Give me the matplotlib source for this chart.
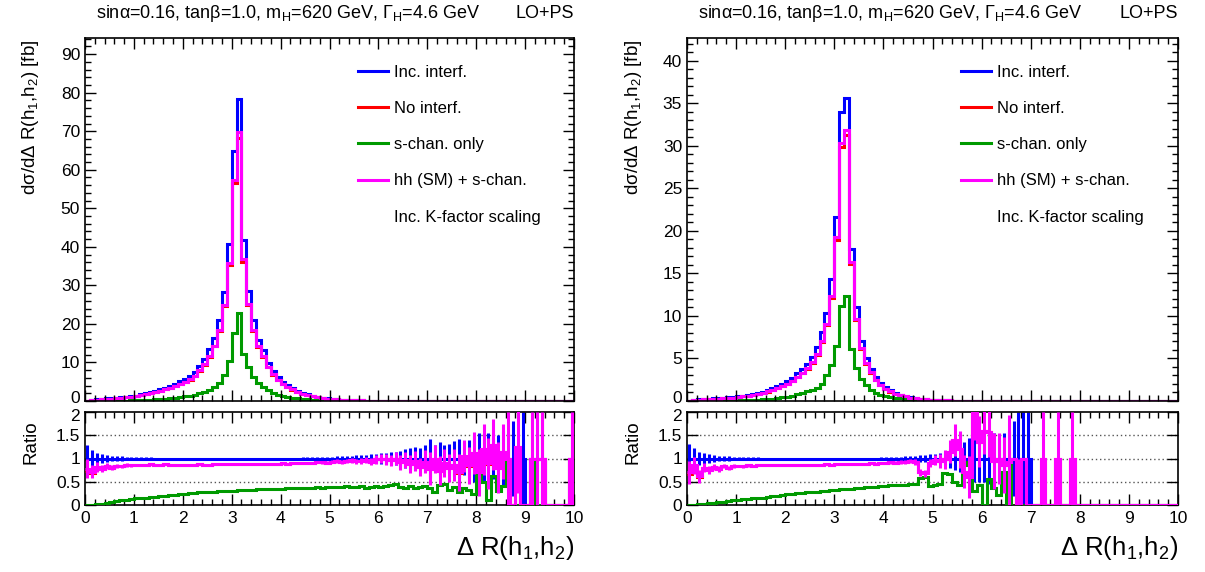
import numpy as np
import matplotlib
matplotlib.use("Agg")
import matplotlib.pyplot as plt
from matplotlib.ticker import MultipleLocator, FixedLocator
from matplotlib.lines import Line2D
from matplotlib.transforms import ScaledTranslation

plt.rcParams['font.family'] = ['Liberation Sans', 'DejaVu Sans']
plt.rcParams['mathtext.fontset'] = 'custom'
plt.rcParams['mathtext.rm'] = 'Liberation Sans'
plt.rcParams['mathtext.it'] = 'Liberation Sans:italic'

# ---------------- data ----------------
edges = np.round(np.arange(0, 101) * 0.1, 2)   # Delta R bin edges, 0..10

labels = ["Inc. interf.", "No interf.", "s-chan. only", "hh (SM) + s-chan.", "Inc. K-factor scaling"]
colors = ["#0000ff", "#ff0000", "#009a00", "#ff00ff"]
title_txt = "sinα=0.16, tanβ=1.0, m$_{\\mathrm{H}}$=620 GeV, Γ$_{\\mathrm{H}}$=4.6 GeV"

# ---- left panel: main distributions [fb] ----
inc_L = [0.10,0.30,0.45,0.55,0.65,0.75,0.85,0.95,1.10,1.25,
         1.40,1.70,2.00,2.30,2.60,3.00,3.50,4.00,4.50,5.10,
         5.80,6.50,7.60,9.00,10.9,13.4,16.4,21.0,28.4,40.7,
         65.0,78.5,41.8,28.6,20.9,15.9,13.2,9.90,7.80,6.30,
         5.00,4.10,3.30,2.60,2.10,1.70,1.40,1.10,0.90,0.70,
         0.55,0.45,0.36,0.29,0.23,0.18,0.14,0.11,0.09,0.07,
         0.055,0.045,0.035,0.028,0.022,0.017,0.013,0.010,0.008,0.006,
         0.005,0.004,0.003,0.0025,0.002,0.0015,0.0012,0.001,0.0008,0.0006,
         0.0005,0.0004,0.0003,0.0003,0.0002,0.0002,0.0001,0.0001,0,0.0001,
         0,0.0001,0.0001,0.0001,0,0,0,0,0,0.0001]
noint_L = [0.08,0.22,0.36,0.42,0.54,0.59,0.70,0.78,0.94,1.04,
           1.18,1.46,1.71,1.99,2.23,2.57,3.03,3.43,3.86,4.37,
           4.97,5.57,6.51,7.80,9.34,11.5,14.2,18.2,24.6,35.2,
           56.6,68.3,36.2,24.8,18.1,14.0,11.4,8.70,6.80,5.40,
           4.40,3.55,2.95,2.27,1.87,1.48,1.28,0.99,0.82,0.63,
           0.50,0.41,0.33,0.28,0.22,0.17,0.13,0.11,0.08,0.07,
           0.054,0.043,0.033,0.027,0.020,0.016,0.011,0.010,0.007,0.006,
           0.004,0.004,0.002,0.002,0.002,0.001,0.001,0.001,0.001,0.001,
           0,0,0,0,0,0,0,0,0,0,
           0,0,0,0,0,0,0,0,0,0]
schan_L = [0.00,0.01,0.01,0.02,0.03,0.04,0.06,0.08,0.10,0.13,
           0.17,0.21,0.27,0.33,0.40,0.48,0.58,0.70,0.84,1.00,
           1.20,1.40,1.65,1.95,2.30,2.80,3.70,4.70,6.70,10.4,
           17.6,22.8,12.1,8.70,6.30,4.70,3.70,2.80,2.10,1.60,
           1.30,1.05,0.85,0.68,0.55,0.45,0.37,0.30,0.25,0.20,
           0.16,0.13,0.11,0.09,0.07,0.06,0.05,0.04,0.03,0.025,
           0.020,0.016,0.013,0.010,0.008,0.006,0.005,0.004,0.003,0.002,
           0,0,0,0,0,0,0,0,0,0,
           0,0,0,0,0,0,0,0,0,0,
           0,0,0,0,0,0,0,0,0,0]
hhs_L = [0.08,0.22,0.37,0.43,0.55,0.60,0.71,0.79,0.95,1.06,
         1.20,1.48,1.74,2.02,2.26,2.61,3.08,3.48,3.92,4.44,
         5.05,5.66,6.61,7.92,9.48,11.7,14.4,18.5,25.0,35.8,
         57.4,69.7,36.8,25.2,18.4,14.2,11.6,8.80,6.90,5.50,
         4.50,3.60,3.00,2.30,1.90,1.50,1.30,1.00,0.83,0.64,
         0.51,0.42,0.33,0.28,0.22,0.17,0.13,0.11,0.08,0.07,
         0.055,0.044,0.034,0.028,0.020,0.016,0.011,0.010,0.007,0.006,
         0.004,0.004,0.002,0.002,0.002,0.001,0.001,0.001,0.001,0.001,
         0,0,0,0,0,0,0,0,0,0,
         0,0,0,0,0,0,0,0,0,0]

# ---- left panel: ratios to "Inc. interf." ----
r_noint_L = [0.74,0.69,0.81,0.77,0.83,0.80,0.84,0.83,0.86,0.85,
             0.86,0.87,0.87,0.88,0.87,0.87,0.88,0.87,0.87,0.87,
             0.87,0.87,0.87,0.88,0.87,0.87,0.88,0.88,0.88,0.88,
             0.88,0.89,0.88,0.88,0.88,0.89,0.88,0.89,0.89,0.88,
             0.90,0.89,0.90,0.90,0.91,0.90,0.91,0.92,0.92,0.91,
             0.93,0.94,0.93,0.95,0.96,0.94,0.95,0.97,0.93,0.98,
             1.00,0.98,0.96,1.00,0.92,0.97,0.88,0.95,0.82,0.93,
             0.77,0.97,0.73,0.89,0.79,0.85,0.69,1.04,0.84,1.11,
             0.69,1.19,0.89,1.29,0.79,1.14,0.99,0.00,1.24,0.00,
             0.00,1.00,1.00,1.00,0.00,0.00,0.00,0.00,0.00,1.00]
r_schan_L = [0.00,0.01,0.02,0.03,0.05,0.06,0.08,0.10,0.11,0.13,
             0.14,0.15,0.16,0.17,0.18,0.19,0.20,0.21,0.22,0.23,
             0.24,0.25,0.26,0.27,0.27,0.28,0.29,0.30,0.30,0.31,
             0.31,0.32,0.32,0.33,0.33,0.34,0.34,0.34,0.35,0.35,
             0.35,0.36,0.36,0.36,0.37,0.37,0.37,0.38,0.37,0.38,
             0.38,0.39,0.38,0.40,0.38,0.39,0.40,0.37,0.39,0.40,
             0.38,0.40,0.42,0.45,0.38,0.37,0.40,0.36,0.38,0.40,
             0.36,0.28,0.42,0.45,0.32,0.38,0.27,0.36,0.33,0.24,
             0.66,0.50,0.10,0.62,0.30,0.40,0.95,0.00,0.00,0.00,
             0.00,0.95,0.00,0.00,0.00,0.00,0.00,0.00,0.00,0.00]
r_hhs_L = [0.78,0.72,0.82,0.78,0.84,0.80,0.84,0.83,0.86,0.85,
           0.86,0.87,0.87,0.88,0.87,0.87,0.88,0.87,0.87,0.87,
           0.87,0.87,0.87,0.88,0.87,0.87,0.88,0.88,0.88,0.88,
           0.88,0.89,0.88,0.88,0.88,0.89,0.88,0.89,0.89,0.88,
           0.90,0.89,0.90,0.90,0.91,0.90,0.91,0.92,0.92,0.91,
           0.93,0.94,0.93,0.95,0.96,0.94,0.95,0.97,0.93,0.98,
           1.00,0.98,0.96,1.00,0.92,0.97,0.88,0.95,0.82,0.93,
           0.78,0.98,0.74,0.90,0.80,0.86,0.70,1.05,0.85,1.12,
           0.70,1.20,0.90,1.30,0.80,1.15,1.00,0.00,1.25,0.00,
           0.00,1.00,1.00,1.00,0.00,0.00,0.00,0.00,0.00,1.00]
e_inc_L = [0.30,0.18,0.12,0.09,0.07,0.06,0.05,0.045,0.04,0.035,
           0.03,0.028,0.025,0.022,0.02,0.02,0.018,0.017,0.016,0.015,
           0.014,0.013,0.012,0.011,0.01,0.01,0.01,0.01,0.01,0.01,
           0.01,0.01,0.01,0.01,0.01,0.01,0.01,0.012,0.013,0.014,
           0.015,0.016,0.018,0.02,0.022,0.025,0.028,0.03,0.033,0.036,
           0.04,0.045,0.05,0.055,0.06,0.065,0.07,0.08,0.09,0.10,
           0.11,0.12,0.13,0.15,0.17,0.20,0.22,0.25,0.22,0.28,
           0.42,0.30,0.35,0.30,0.32,0.38,0.42,0.35,0.40,0.50,
           0.55,0.50,0.55,0.45,0.50,0.60,0.55,0.80,0.00,1.00,
           0.00,1.00,1.00,1.00,0.00,0.00,0.00,0.00,0.00,1.00]
e_hhs_L = [0.20,0.15,0.11,0.08,0.06,0.05,0.04,0.04,0.035,0.03,
           0.025,0.022,0.02,0.018,0.016,0.015,0.014,0.013,0.012,0.012,
           0.011,0.01,0.01,0.01,0.01,0.01,0.01,0.01,0.01,0.01,
           0.01,0.01,0.01,0.01,0.01,0.01,0.01,0.01,0.011,0.012,
           0.012,0.013,0.015,0.017,0.019,0.021,0.024,0.027,0.03,0.033,
           0.036,0.04,0.045,0.05,0.055,0.06,0.065,0.07,0.08,0.09,
           0.10,0.11,0.12,0.14,0.16,0.18,0.20,0.22,0.20,0.25,
           0.35,0.30,0.32,0.30,0.30,0.35,0.40,0.35,0.40,0.45,
           0.50,0.55,0.55,0.55,0.55,0.60,1.00,0.00,1.00,0.00,
           0.00,1.00,1.00,1.00,0.00,0.00,0.00,0.00,0.00,1.00]

# ---- right panel: main distributions [fb] ----
inc_R = [0.05,0.12,0.18,0.22,0.26,0.30,0.34,0.38,0.43,0.48,
         0.55,0.62,0.72,0.82,0.95,1.10,1.30,1.50,1.75,2.00,
         2.35,2.75,3.25,3.80,4.40,5.20,6.30,8.10,10.4,14.3,
         21.6,34.0,35.6,17.9,11.0,7.00,5.00,3.80,2.80,2.10,
         1.60,1.25,0.95,0.75,0.58,0.45,0.36,0.28,0.22,0.17,
         0.13,0.10,0.08,0.065,0.05,0.04,0.03,0.025,0.02,0.015,
         0.012,0.009,0.007,0.005,0.004,0.003,0.002,0.0015,0.001,0.001,
         0,0,0,0,0,0,0,0,0,0,
         0,0,0,0,0,0,0,0,0,0,
         0,0,0,0,0,0,0,0,0,0]
noint_R = [0.04,0.10,0.15,0.18,0.21,0.25,0.28,0.32,0.36,0.40,
           0.46,0.53,0.61,0.70,0.81,0.94,1.11,1.29,1.50,1.72,
           2.02,2.36,2.80,3.27,3.79,4.48,5.44,6.99,8.96,12.1,
           18.9,29.9,31.3,16.1,9.55,6.10,4.38,3.33,2.46,1.85,
           1.43,1.11,0.85,0.67,0.52,0.40,0.33,0.26,0.20,0.16,
           0.12,0.094,0.074,0.06,0.046,0.037,0.028,0.024,0.019,0.014,
           0.011,0.008,0.006,0.005,0.004,0.003,0.002,0.0015,0.001,0.001,
           0,0,0,0,0,0,0,0,0,0,
           0,0,0,0,0,0,0,0,0,0,
           0,0,0,0,0,0,0,0,0,0]
schan_R = [0.00,0.002,0.005,0.01,0.015,0.02,0.03,0.035,0.045,0.055,
           0.065,0.08,0.10,0.12,0.15,0.18,0.23,0.28,0.35,0.42,
           0.52,0.63,0.78,0.95,1.15,1.30,1.50,2.05,3.00,4.20,
           6.50,11.2,12.3,6.10,3.90,2.60,1.90,1.30,0.98,0.75,
           0.60,0.48,0.38,0.31,0.25,0.20,0.17,0.14,0.11,0.09,
           0.07,0.055,0.045,0.035,0.028,0.022,0.017,0.013,0.010,0.008,
           0.006,0.005,0.004,0.003,0.002,0.001,0.001,0.001,0,0,
           0,0,0,0,0,0,0,0,0,0,
           0,0,0,0,0,0,0,0,0,0,
           0,0,0,0,0,0,0,0,0,0]
hhs_R = [0.04,0.10,0.15,0.18,0.22,0.25,0.29,0.32,0.37,0.41,
         0.47,0.54,0.62,0.71,0.82,0.95,1.13,1.31,1.52,1.74,
         2.05,2.40,2.84,3.32,3.85,4.55,5.52,7.10,9.10,12.3,
         19.3,30.3,31.9,16.4,9.70,6.20,4.45,3.38,2.50,1.88,
         1.45,1.13,0.86,0.68,0.53,0.41,0.33,0.26,0.20,0.16,
         0.12,0.095,0.075,0.06,0.047,0.038,0.028,0.024,0.019,0.014,
         0.011,0.008,0.006,0.005,0.004,0.003,0.002,0.0015,0.001,0.001,
         0,0,0,0,0,0,0,0,0,0,
         0,0,0,0,0,0,0,0,0,0,
         0,0,0,0,0,0,0,0,0,0]

# ---- right panel: ratios to "Inc. interf." ----
r_noint_R = [0.66,0.83,0.61,0.80,0.75,0.82,0.78,0.84,0.80,0.84,
             0.84,0.83,0.85,0.84,0.86,0.85,0.86,0.86,0.85,0.86,
             0.86,0.86,0.87,0.87,0.86,0.87,0.87,0.87,0.88,0.87,
             0.88,0.88,0.89,0.88,0.88,0.89,0.89,0.90,0.89,0.90,
             0.91,0.92,0.91,0.92,0.93,0.95,0.92,0.70,0.68,0.90,
             0.97,0.95,0.98,1.15,1.40,1.20,0.72,0.60,2.00,1.36,
             1.60,1.58,0.94,1.00,0.86,0.93,1.00,0.00,1.00,0.00,
             0.00,0.00,1.00,0.00,0.00,1.00,0.00,0.00,1.00,0.00,
             0,0,0,0,0,0,0,0,0,0,
             0,0,0,0,0,0,0,0,0,0]
r_schan_R = [0.00,0.01,0.02,0.03,0.04,0.05,0.06,0.07,0.09,0.10,
             0.11,0.12,0.13,0.14,0.15,0.16,0.18,0.19,0.20,0.22,
             0.23,0.24,0.25,0.26,0.27,0.28,0.29,0.30,0.31,0.32,
             0.33,0.34,0.35,0.35,0.36,0.37,0.38,0.38,0.39,0.40,
             0.41,0.42,0.43,0.43,0.44,0.46,0.45,0.57,0.60,0.40,
             0.42,0.45,0.68,0.66,0.50,0.43,0.86,0.93,0.30,0.42,
             0.00,0.55,0.36,0.22,0.70,0.05,1.00,0.00,0.00,0.00,
             0,0,0,0,0,0,0,0,0,0,
             0,0,0,0,0,0,0,0,0,0,
             0,0,0,0,0,0,0,0,0,0]
r_hhs_R = [0.70,0.85,0.62,0.80,0.75,0.82,0.78,0.84,0.80,0.84,
           0.84,0.83,0.85,0.84,0.86,0.85,0.86,0.86,0.85,0.86,
           0.86,0.86,0.87,0.87,0.86,0.87,0.87,0.87,0.88,0.87,
           0.88,0.88,0.89,0.88,0.88,0.89,0.89,0.90,0.89,0.90,
           0.91,0.92,0.91,0.92,0.93,0.95,0.92,0.70,0.68,0.90,
           0.97,0.95,0.98,1.15,1.40,1.20,0.72,0.60,2.00,1.36,
           1.60,1.58,0.94,1.00,0.86,0.93,1.00,0.00,1.00,0.00,
           0.00,0.00,1.00,0.00,0.00,1.00,0.00,0.00,1.00,0.00,
           0,0,0,0,0,0,0,0,0,0,
           0,0,0,0,0,0,0,0,0,0]
e_inc_R = [0.32,0.22,0.15,0.11,0.09,0.07,0.06,0.05,0.045,0.04,
           0.035,0.03,0.028,0.025,0.022,0.02,0.018,0.017,0.016,0.015,
           0.014,0.013,0.012,0.011,0.01,0.01,0.01,0.01,0.01,0.01,
           0.01,0.01,0.01,0.01,0.012,0.014,0.016,0.018,0.02,0.022,
           0.025,0.03,0.035,0.04,0.045,0.05,0.06,0.07,0.08,0.09,
           0.10,0.12,0.14,0.20,0.25,0.30,0.35,0.45,0.50,0.50,
           0.50,0.55,0.55,0.45,0.55,0.60,0.80,1.00,1.00,1.00,
           0,0,0,0,0,0,0,0,0,0,
           0,0,0,0,0,0,0,0,0,0,
           0,0,0,0,0,0,0,0,0,0]
e_hhs_R = [0.25,0.18,0.14,0.10,0.08,0.07,0.06,0.05,0.045,0.04,
           0.03,0.028,0.025,0.022,0.02,0.018,0.016,0.015,0.014,0.013,
           0.012,0.011,0.01,0.01,0.01,0.01,0.01,0.01,0.01,0.01,
           0.01,0.01,0.01,0.01,0.012,0.014,0.016,0.018,0.02,0.022,
           0.025,0.03,0.035,0.04,0.045,0.05,0.06,0.07,0.08,0.09,
           0.10,0.15,0.20,0.25,0.35,0.40,0.35,0.45,0.60,0.55,
           0.50,0.55,0.60,0.55,0.60,1.00,0.00,1.00,0.00,0.00,
           0.00,0.00,1.00,0.00,0.00,1.00,0.00,0.00,1.00,0.00,
           0,0,0,0,0,0,0,0,0,0,
           0,0,0,0,0,0,0,0,0,0]

# ---------------- figure ----------------
fig = plt.figure(figsize=(12.05, 5.72), dpi=100)
W, H = 1205.0, 572.0
LW = 2.2
TICK_FS = 12.5


def style_axes(ax, xmaj, xmin, ymaj, ymin):
    ax.xaxis.set_major_locator(MultipleLocator(xmaj))
    ax.xaxis.set_minor_locator(MultipleLocator(xmin))
    if ymaj is not None:
        ax.yaxis.set_major_locator(MultipleLocator(ymaj))
    if ymin is not None:
        ax.yaxis.set_minor_locator(MultipleLocator(ymin))
    ax.tick_params(which='both', direction='in', top=True, right=True,
                   labelsize=TICK_FS, width=1.0)
    ax.tick_params(which='major', length=8)
    ax.tick_params(which='minor', length=4)
    for s in ax.spines.values():
        s.set_linewidth(1.2)


def panel(x_left_px, x_right_px, inc, noint, schan, hhs,
          r_noint, r_schan, r_hhs, e_inc, e_hhs, ymax, ymaj, ymin):
    left = x_left_px / W
    width = (x_right_px - x_left_px) / W
    ax = fig.add_axes([left, 1 - 401 / H, width, (401 - 38) / H])
    axr = fig.add_axes([left, 1 - 505 / H, width, (505 - 412) / H])

    series = [inc, noint, schan, hhs]
    for vals, c in zip(series, colors):
        ax.stairs(vals, edges, color=c, lw=LW, baseline=None)
    ax.set_xlim(0, 10)
    ax.set_ylim(0, ymax)
    style_axes(ax, 1, 0.2, ymaj, ymin)
    ax.tick_params(labelbottom=False)
    fig.canvas.draw()
    # nudge the "0" label of the main frame up a little (as in the reference)
    for lab in ax.get_yticklabels():
        if lab.get_text() in ("0", "−0"):
            lab.set_transform(lab.get_transform() +
                              ScaledTranslation(0, 3 / 72, fig.dpi_scale_trans))

    handles = [Line2D([], [], color=c, lw=LW) for c in colors]
    handles.append(Line2D([], [], color='none', lw=0))
    ax.legend(handles, labels, loc='upper left', bbox_to_anchor=(0.545, 0.944),
              frameon=False, fontsize=12, handlelength=1.8, handletextpad=0.32,
              labelspacing=1.27, borderaxespad=0)

    # ratio panel
    centers = 0.5 * (edges[:-1] + edges[1:])
    inc_a = np.array(inc)
    r_inc = np.where(inc_a > 0, 1.0, 0.0)
    for yv in [0.5, 1.0, 1.5]:
        axr.axhline(yv, color='#555555', lw=1.0, ls=(0, (1, 2)), zorder=0.5)
    axr.stairs(r_inc, edges, color=colors[0], lw=LW, baseline=None, zorder=2)
    axr.vlines(centers, r_inc - np.array(e_inc), r_inc + np.array(e_inc),
               color=colors[0], lw=LW, zorder=2)
    axr.stairs(r_noint, edges, color=colors[1], lw=LW, baseline=None, zorder=3)
    axr.stairs(r_schan, edges, color=colors[2], lw=LW, baseline=None, zorder=4)
    rh = np.array(r_hhs)
    eh = np.array(e_hhs)
    axr.stairs(rh, edges, color=colors[3], lw=LW, baseline=None, zorder=5)
    axr.vlines(centers, rh - eh, rh + eh, color=colors[3], lw=LW, zorder=5)
    axr.set_xlim(0, 10)
    axr.set_ylim(0, 2)
    style_axes(axr, 1, 0.2, None, None)
    axr.yaxis.set_major_locator(FixedLocator([0, 0.5, 1, 1.5, 2]))
    axr.set_yticklabels(["0", "0.5", "1", "1.5", "2"])
    ylabs = axr.get_yticklabels()
    ylabs[-1].set_transform(ylabs[-1].get_transform() +
                            ScaledTranslation(0, -2 / 72, fig.dpi_scale_trans))
    axr.set_xticks(range(0, 11))
    axr.set_xticklabels([str(v) for v in range(0, 11)])
    axr.tick_params(axis='x', pad=4)

    # texts
    fig.text((x_left_px + 11) / W, 1 - 14 / H, title_txt, fontsize=13,
             ha='left', va='center')
    fig.text(x_right_px / W, 1 - 14 / H, "LO+PS", fontsize=13,
             ha='right', va='center')
    fig.text((x_left_px - 54) / W, 1 - 40 / H,
             "dσ/dΔ R(h$_{1}$,h$_{2}$) [fb]", rotation=90, fontsize=13.5,
             ha='center', va='top')
    fig.text((x_left_px - 54) / W, 1 - 442 / H, "Ratio", rotation=90,
             fontsize=13.5, ha='center', va='center')
    fig.text(x_right_px / W, 1 - 548 / H, "Δ R(h$_{1}$,h$_{2}$)",
             fontsize=18.5, ha='right', va='center')


panel(85, 574, inc_L, noint_L, schan_L, hhs_L,
      r_noint_L, r_schan_L, r_hhs_L, e_inc_L, e_hhs_L, 94.2, 10, 2)
panel(687, 1178, inc_R, noint_R, schan_R, hhs_R,
      r_noint_R, r_schan_R, r_hhs_R, e_inc_R, e_hhs_R, 42.7, 5, 1)

fig.savefig("out.png", dpi=100)
